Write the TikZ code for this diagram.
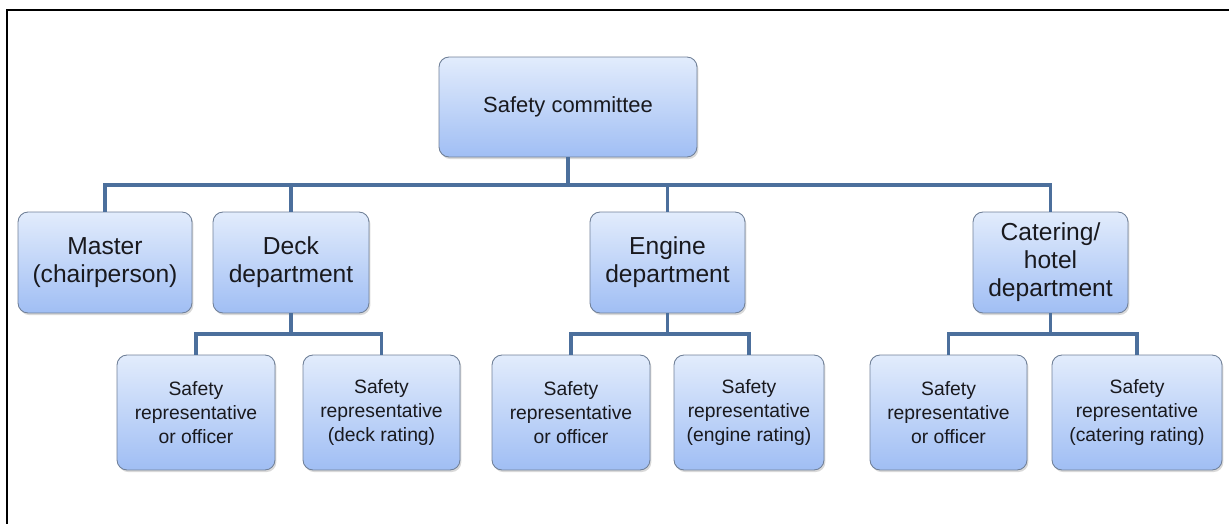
\documentclass[tikz,border=0pt]{standalone}
\usepackage{fontspec}
\setmainfont{Liberation Sans}
\usepackage{tikz}
\usetikzlibrary{shapes,positioning,shadows}
\usepackage{xcolor}
\definecolor{orgline}{RGB}{76,111,156}
\definecolor{orgedge}{RGB}{112,128,152}
\definecolor{orgtop}{RGB}{226,236,252}
\definecolor{orgbottom}{RGB}{160,190,244}
\definecolor{orgtext}{RGB}{25,25,30}
\tikzstyle{line} = [line width=1.8pt,color=orgline]
\tikzstyle{unit} = [rectangle, rounded corners=0.2cm, align=center, text=orgtext, draw=orgedge, line width=0.5pt, top color=orgtop, bottom color=orgbottom, drop shadow={shadow xshift=0.8pt, shadow yshift=-1.2pt, opacity=0.3}, inner sep=2pt]
\tikzstyle{head} = [unit, minimum width=5.16cm, minimum height=2cm, font=\fontsize{12.5}{15}\selectfont]
\tikzstyle{dept} = [unit, minimum height=2.02cm, font=\fontsize{14}{16}\selectfont]
\tikzstyle{rep} = [unit, minimum height=2.3cm, font=\fontsize{11}{13.6}\selectfont]

\begin{document}
\begin{tikzpicture}[x=0.02cm, y=-0.02cm]
\useasboundingbox (0,0) rectangle (1229,524);
% frame
\draw[line width=1.2pt] (1229,10) -| (7,524);

% Committee
\node[head] (comm) at (568,107) {Safety committee};

% Departments
\node[dept, minimum width=3.48cm] (master) at (105,262.5) {Master\\(chairperson)};
\node[dept, minimum width=3.12cm] (deck) at (291,262.5) {Deck\\department};
\node[dept, minimum width=3.1cm] (engine) at (667.5,262.5) {Engine\\department};
\node[dept, minimum width=3.1cm] (cater) at (1050.5,262.5) {Catering/\\hotel\\department};

% Representatives
\node[rep, minimum width=3.16cm] (deckA) at (196,412.5) {Safety\\representative\\or officer};
\node[rep, minimum width=3.14cm] (deckB) at (381.5,412.5) {Safety\\representative\\(deck rating)};
\node[rep, minimum width=3.16cm] (engA) at (571,412.5) {Safety\\representative\\or officer};
\node[rep, minimum width=3.0cm] (engB) at (749,412.5) {Safety\\representative\\(engine rating)};
\node[rep, minimum width=3.14cm] (catA) at (948.5,412.5) {Safety\\representative\\or officer};
\node[rep, minimum width=3.4cm] (catB) at (1137,412.5) {Safety\\representative\\(catering rating)};

% Bus points
\coordinate (bus) at (568,185);
\coordinate (dbus) at (291,334);
\coordinate (ebus) at (667.5,334);
\coordinate (cbus) at (1050.5,334);

% Connections
\draw[line] (comm.south) -- (bus);
\draw[line] (master.north) |- (bus) -| (cater.north);
\draw[line] (deck.north) -- (deck.north |- bus);
\draw[line] (engine.north) -- (engine.north |- bus);
\draw[line] (deck.south) -- (dbus);
\draw[line] (deckA.north) |- (dbus) -| (deckB.north);
\draw[line] (engine.south) -- (ebus);
\draw[line] (engA.north) |- (ebus) -| (engB.north);
\draw[line] (cater.south) -- (cbus);
\draw[line] (catA.north) |- (cbus) -| (catB.north);
\end{tikzpicture}
\end{document}
